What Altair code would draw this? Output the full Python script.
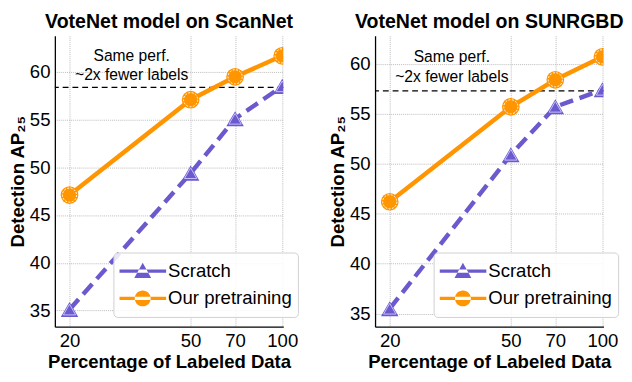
import altair as alt
import pandas as pd

pct = [20, 50, 70, 100]
series_names = ["Scratch", "Our pretraining"]

scan_scratch = [35.1, 49.4, 55.1, 58.5]
scan_pre = [47.1, 57.1, 59.5, 61.7]
scan_ref = 58.4

sun_scratch = [35.5, 50.9, 55.7, 57.4]
sun_pre = [46.2, 55.7, 58.4, 60.7]
sun_ref = 57.3

y_ticks = [35, 40, 45, 50, 55, 60]
note_lines = ["Same perf.", "~2x fewer labels"]

PURPLE = "#6A5ACD"
ORANGE = "#FF9500"
FONT = "Liberation Sans"
W, H = 234, 298

legend_paths = [
    "M-1,-0.07H1V0.07H-1Z M-0.36,0.3L0.36,0.3L0,-0.36Z",
    "M-1,-0.07H1V0.07H-1Z M-0.34,0A0.34,0.34 0 1,0 0.34,0A0.34,0.34 0 1,0 -0.34,0Z",
]


def panel(title, scratch, pre, ref, ydom, note_y):
    xs = alt.Scale(type="log", domain=[17.9, 100.8], nice=False)
    ys = alt.Scale(domain=ydom, nice=False, zero=False)
    x = alt.X("pct:Q", scale=xs, axis=alt.Axis(values=pct, title="Percentage of Labeled Data"))
    y = alt.Y("value:Q", scale=ys, axis=alt.Axis(values=y_ticks, title="Detection AP₂₅"))

    d_s = pd.DataFrame({"pct": pct, "value": scratch})
    d_p = pd.DataFrame({"pct": pct, "value": pre})

    ref_rule = alt.Chart(pd.DataFrame({"r": [ref]})).mark_rule(
        color="black", strokeWidth=1.3, strokeDash=[6, 4]
    ).encode(y=alt.Y("r:Q", scale=ys))

    line_s = alt.Chart(d_s).mark_line(strokeWidth=4.5, color=PURPLE, strokeDash=[14, 7], clip=True).encode(x=x, y=y)
    line_p = alt.Chart(d_p).mark_line(strokeWidth=4.5, color=ORANGE, clip=True).encode(x=x, y=y)
    tri = alt.Chart(d_s).mark_point(
        shape="triangle-up", size=320, filled=True, color=PURPLE, opacity=1, clip=True
    ).encode(x=x, y=y)
    tri_in = alt.Chart(d_s).mark_point(
        shape="triangle-up", size=160, filled=False, color="#c8c0ff", strokeWidth=1, opacity=1, clip=True
    ).encode(x=x, y=y)
    circ = alt.Chart(d_p).mark_point(
        shape="circle", size=330, filled=True, color=ORANGE, opacity=1, clip=True
    ).encode(x=x, y=y)
    circ_in = alt.Chart(d_p).mark_point(
        shape="circle", size=210, filled=False, color="white", strokeWidth=1, strokeDash=[2, 1.5], opacity=1, clip=True
    ).encode(x=x, y=y)

    notes = alt.Chart(pd.DataFrame({"x": [32, 32], "y": note_y, "t": note_lines})).mark_text(
        font=FONT, fontSize=16, color="black"
    ).encode(x=alt.X("x:Q", scale=xs), y=alt.Y("y:Q", scale=ys), text="t:N")

    # legend-only layer: its points sit outside the x domain and are clipped away
    leg_df = pd.DataFrame({"pct": [1000, 1000], "value": [40, 40], "series": series_names})
    leg = alt.Chart(leg_df).mark_point(filled=True, clip=True).encode(
        x=x, y=y,
        color=alt.Color("series:N", scale=alt.Scale(domain=series_names, range=[PURPLE, ORANGE]),
                        legend=alt.Legend(title=None)),
        shape=alt.Shape("series:N", scale=alt.Scale(domain=series_names, range=legend_paths),
                        legend=alt.Legend(title=None)),
    )

    return alt.layer(ref_rule, line_s, line_p, tri, tri_in, circ, circ_in, notes, leg).properties(
        width=W, height=H,
        title=alt.TitleParams(title, font=FONT, fontSize=20, fontWeight="bold", offset=4),
    )


left = panel("VoteNet model on ScanNet", scan_scratch, scan_pre, scan_ref, [33.3, 63.8], [61.7, 59.7])
right = panel("VoteNet model on SUNRGBD", sun_scratch, sun_pre, sun_ref, [33.7, 62.8], [60.65, 58.7])

chart = alt.hconcat(left, right, spacing=30).resolve_scale(
    x="independent", y="independent", color="independent", shape="independent"
).properties(padding=0).configure_view(stroke=None).configure_axis(
    labelFont=FONT, labelFontSize=19, labelColor="black", labelPadding=5,
    titleFont=FONT, titleFontSize=19, titleFontWeight="bold", titleColor="black",
    domainColor="black", domainWidth=1.3, ticks=False,
    grid=True, gridColor="#bbbbbb", gridDash=[1, 1], gridWidth=1,
).configure_axisX(titlePadding=3).configure_axisY(titlePadding=2).configure_legend(
    orient="none", legendX=60, legendY=H - 76,
    labelFont=FONT, labelFontSize=19, labelColor="black",
    symbolSize=2300, symbolStrokeWidth=0, symbolOpacity=1, clipHeight=26,
    strokeColor="#d0d0d0", fillColor="rgba(255,255,255,0.85)", cornerRadius=4,
    padding=6, labelOffset=2, rowPadding=2,
)

chart.save("out.html", embed_options={"renderer": "svg", "actions": False})
